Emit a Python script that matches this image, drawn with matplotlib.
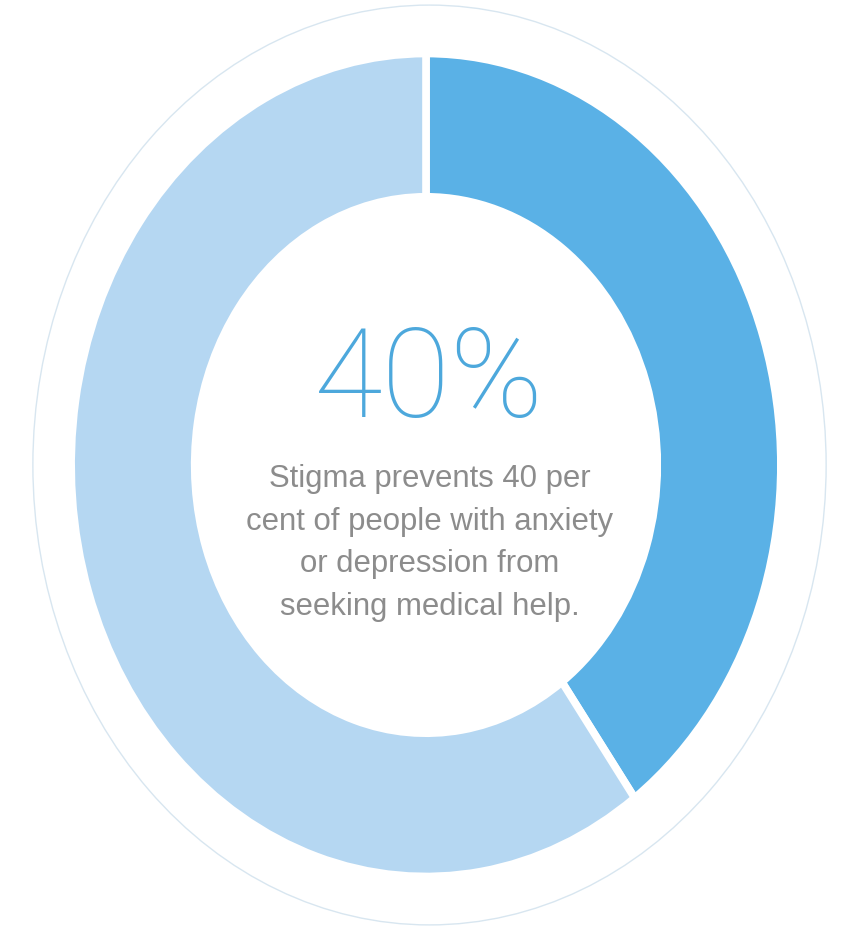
import numpy as np
import matplotlib.pyplot as plt
from matplotlib.patches import Circle

# data
labels = ['Stigma prevents seeking help', 'Others']
shares = [40, 60]
big_label = '40%'
caption = ['Stigma prevents 40 per',
           'cent of people with anxiety',
           'or depression from',
           'seeking medical help.']

colors = ['#5AB1E6', '#B5D7F2']

fig = plt.figure(figsize=(8.41, 9.28), dpi=100)
ax = fig.add_axes([0, 0, 1, 1])

ax.pie(shares, colors=colors, startangle=90, counterclock=False,
       radius=1.011,
       wedgeprops=dict(width=0.352, edgecolor='white', linewidth=5.5))

# thin outer ring
ax.add_patch(Circle((0.01, 0.0), 1.13, fill=False, edgecolor='#D8E6F0', linewidth=1.0))

# stretch the circle vertically like the picture (centre at 426, 466 px)
ax.set_aspect('auto')
ax.set_xlim(-426 / 351, (841 - 426) / 351)
ax.set_ylim(-(928 - 466) / 407, 466 / 407)
ax.axis('off')

fig.text(429 / 841, 1 - 417 / 928, big_label, ha='center', va='baseline',
         fontsize=90, color='#4DA8DC', family='Roboto', weight=100)

for i, line in enumerate(caption):
    fig.text(430 / 841, 1 - (487 + 42.7 * i) / 928, line, ha='center', va='baseline',
             fontsize=22.4, color='#8C8C8C', family='Liberation Sans')

fig.savefig('out.png', dpi=100, facecolor='white')
